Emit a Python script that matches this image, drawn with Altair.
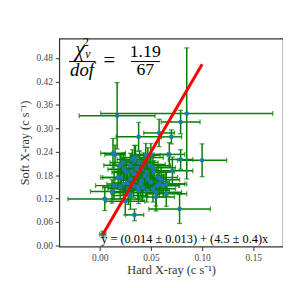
import altair as alt
import pandas as pd

# ---- data ----
hard = [0.003, 0.017, 0.085, 0.079, 0.038, 0.058, 0.070, 0.100, 0.013, 0.015,
        0.068, 0.079, 0.045, 0.050, 0.032, 0.034, 0.039, 0.030, 0.049, 0.041,
        0.052, 0.071, 0.026, 0.034, 0.046, 0.021, 0.030, 0.041, 0.050, 0.058,
        0.065, 0.023, 0.033, 0.042, 0.020, 0.028, 0.038, 0.046, 0.012, 0.055,
        0.065, 0.030, 0.005, 0.025, 0.055, 0.034, 0.078, 0.056, 0.047, 0.057,
        0.023, 0.018, 0.014, 0.062, 0.036, 0.044, 0.027, 0.040, 0.052, 0.031,
        0.047, 0.037, 0.024, 0.043, 0.060, 0.028, 0.053, 0.035, 0.020]
soft = [0.028, 0.332, 0.338, 0.316, 0.278, 0.288, 0.278, 0.218, 0.236, 0.232,
        0.233, 0.220, 0.231, 0.233, 0.220, 0.216, 0.212, 0.204, 0.204, 0.195,
        0.199, 0.191, 0.187, 0.183, 0.187, 0.174, 0.170, 0.166, 0.162, 0.157,
        0.157, 0.157, 0.153, 0.149, 0.149, 0.145, 0.141, 0.141, 0.138, 0.136,
        0.132, 0.128, 0.119, 0.113, 0.124, 0.078, 0.093, 0.153, 0.225, 0.174,
        0.212, 0.174, 0.153, 0.153, 0.198, 0.178, 0.160, 0.158, 0.145, 0.190,
        0.170, 0.150, 0.195, 0.207, 0.168, 0.135, 0.188, 0.225, 0.205]
hard_err = [0.003, 0.037, 0.084, 0.019, 0.022, 0.015, 0.010, 0.024, 0.012, 0.010,
            0.015, 0.012, 0.014, 0.016, 0.015, 0.013, 0.018, 0.016, 0.020, 0.015,
            0.022, 0.020, 0.014, 0.017, 0.019, 0.018, 0.015, 0.021, 0.018, 0.025,
            0.020, 0.016, 0.018, 0.024, 0.017, 0.020, 0.016, 0.022, 0.021, 0.025,
            0.020, 0.017, 0.036, 0.019, 0.018, 0.009, 0.030, 0.022, 0.015, 0.019,
            0.013, 0.017, 0.018, 0.015, 0.016, 0.020, 0.014, 0.019, 0.022, 0.017,
            0.018, 0.015, 0.016, 0.021, 0.018, 0.017, 0.020, 0.014, 0.016]
soft_err = [0.008, 0.085, 0.168, 0.030, 0.037, 0.035, 0.018, 0.042, 0.038, 0.025,
            0.030, 0.025, 0.030, 0.028, 0.025, 0.040, 0.030, 0.032, 0.030, 0.028,
            0.030, 0.035, 0.030, 0.034, 0.028, 0.032, 0.030, 0.028, 0.030, 0.032,
            0.030, 0.028, 0.030, 0.034, 0.030, 0.028, 0.034, 0.030, 0.030, 0.035,
            0.032, 0.036, 0.030, 0.035, 0.036, 0.015, 0.037, 0.030, 0.025, 0.030,
            0.025, 0.030, 0.035, 0.030, 0.030, 0.028, 0.032, 0.030, 0.034, 0.028,
            0.030, 0.032, 0.028, 0.030, 0.033, 0.030, 0.029, 0.031, 0.030]

fit_x = [0.003, 0.100]
fit_y = [0.0275, 0.464]

y_ticks = [0.0, 0.06, 0.12, 0.18, 0.24, 0.30, 0.36, 0.42, 0.48]
x_ticks = [0.0, 0.05, 0.10, 0.15]

fit_label = "y = (0.014 ± 0.013) + (4.5 ± 0.4)x"

df = pd.DataFrame({"x": hard, "y": soft, "xe": hard_err, "ye": soft_err})
fit_df = pd.DataFrame({"x": fit_x, "y": fit_y})

SERIF = "Liberation Serif"
GREEN = "#008000"

xs = alt.Scale(domain=[-0.0395, 0.179], nice=False, zero=False)
ys = alt.Scale(domain=[-0.003, 0.530], nice=False, zero=False)
xax = alt.Axis(values=x_ticks, format=".2f", title="Hard X-ray (c s⁻¹)", grid=False,
               tickSize=4, labelPadding=2, titlePadding=2)
yax = alt.Axis(values=y_ticks, format=".2f", title="Soft X-ray (c s⁻¹)", grid=False,
               tickSize=4, labelPadding=3, titlePadding=5)


def X(f):
    return alt.X(f, type="quantitative", scale=xs, axis=xax)


def Y(f):
    return alt.Y(f, type="quantitative", scale=ys, axis=yax)


base = alt.Chart(df).transform_calculate(
    xlo="datum.x - datum.xe", xhi="datum.x + datum.xe",
    ylo="datum.y - datum.ye", yhi="datum.y + datum.ye")

hbar = base.mark_rule(color=GREEN, strokeWidth=1.5).encode(x=X("xlo"), x2="xhi:Q", y=Y("y"))
vbar = base.mark_rule(color=GREEN, strokeWidth=1.5).encode(x=X("x"), y=Y("ylo"), y2="yhi:Q")
caps = [
    base.mark_tick(color=GREEN, orient="horizontal", size=5, thickness=1.3).encode(x=X("x"), y=Y("ylo")),
    base.mark_tick(color=GREEN, orient="horizontal", size=5, thickness=1.3).encode(x=X("x"), y=Y("yhi")),
    base.mark_tick(color=GREEN, orient="vertical", size=5, thickness=1.3).encode(x=X("xlo"), y=Y("y")),
    base.mark_tick(color=GREEN, orient="vertical", size=5, thickness=1.3).encode(x=X("xhi"), y=Y("y")),
]
pts = base.mark_circle(color="#1f77b4", size=22, opacity=1).encode(x=X("x"), y=Y("y"))
line = alt.Chart(fit_df).mark_line(color="red", strokeWidth=3).encode(x=X("x"), y=Y("y"))


def txt(t, x, y, size, italic=False, align="center", baseline="middle"):
    d = pd.DataFrame({"x": [x], "y": [y], "t": [t]})
    return alt.Chart(d).mark_text(font=SERIF, fontSize=size, fontStyle="italic" if italic else "normal",
                                  align=align, baseline=baseline, color="black").encode(
        x=X("x"), y=Y("y"), text="t:N")


def bar(x1, x2, y):
    d = pd.DataFrame({"x": [x1], "x2": [x2], "y": [y]})
    return alt.Chart(d).mark_rule(color="black", strokeWidth=1).encode(x=X("x"), x2="x2:Q", y=Y("y"))


annot = [
    txt("χ", -0.0195, 0.500, 21, italic=True),
    txt("2", -0.0135, 0.522, 12),
    txt("ν", -0.0115, 0.490, 12, italic=True),
    bar(-0.030, -0.004, 0.471),
    txt("dof", -0.0173, 0.448, 19, italic=True),
    txt("=", 0.0095, 0.473, 21),
    txt("1.19", 0.0445, 0.496, 18),
    bar(0.0305, 0.0590, 0.471),
    txt("67", 0.0445, 0.448, 18),
    txt(fit_label, 0.0015, 0.005, 12.5, align="left", baseline="alphabetic"),
]

chart = alt.layer(hbar, vbar, *caps, pts, line, *annot).properties(
    width=227, height=211,
    padding={"left": 10, "top": 26, "right": 0, "bottom": 1},
).configure_view(stroke="#333", strokeWidth=1.2).configure_axis(
    domain=False, labelFont=SERIF, titleFont=SERIF, labelFontSize=9.5, titleFontSize=12.5,
    labelColor="#444", titleColor="#333", tickColor="#333", titleFontWeight="normal"
)

chart.save("out.html", embed_options={"renderer": "svg", "actions": False})
